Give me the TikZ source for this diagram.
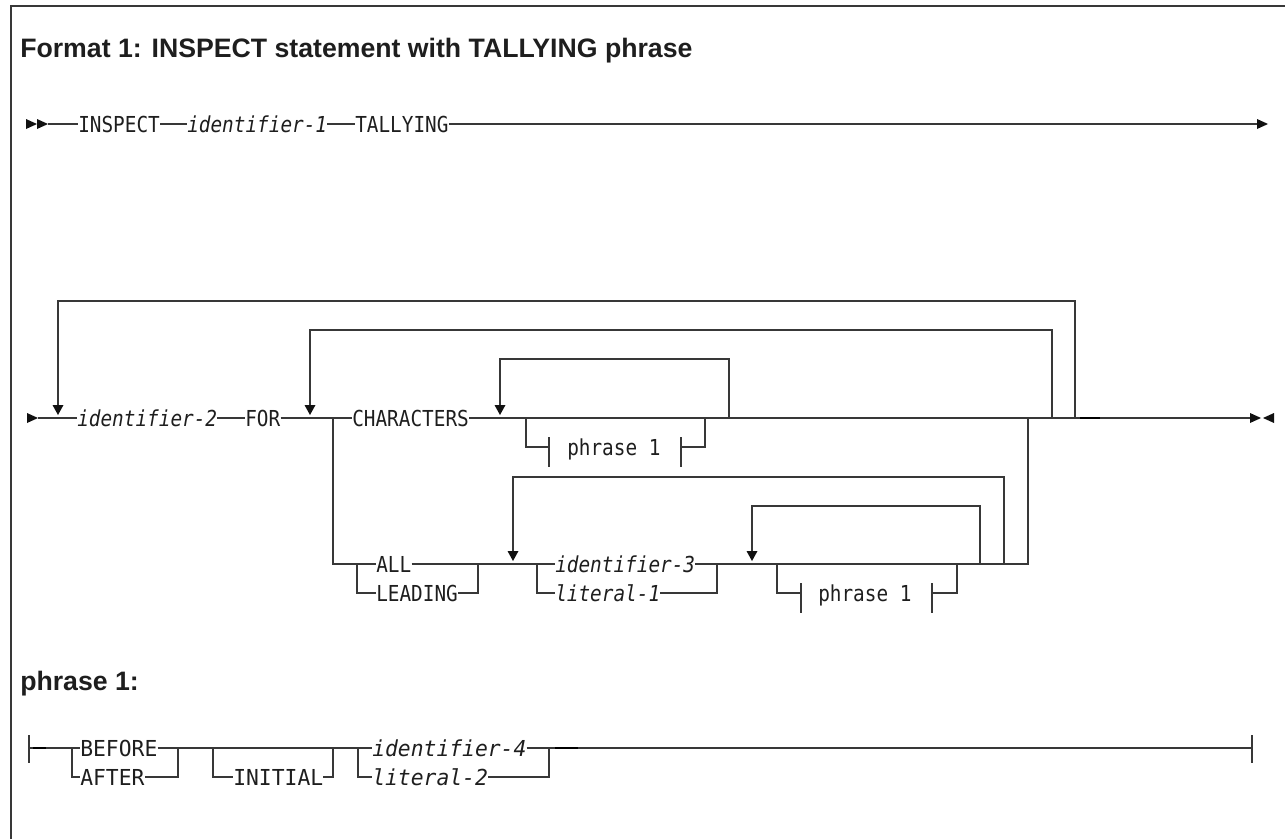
\documentclass[tikz,border=0pt]{standalone}
\usepackage{fontspec}
\setmainfont{Liberation Sans}
\newfontfamily\monof[FakeStretch=0.88]{DejaVu Sans Mono}
\newfontfamily\monow[FakeStretch=0.97]{DejaVu Sans Mono}
\definecolor{lncol}{HTML}{383838}
\definecolor{txtcol}{HTML}{1E1E1E}
\definecolor{tipcol}{HTML}{111111}
\newcommand\mkright[2]{\fill[tipcol] (#1,#2) ++(0,-5) -- ++(11,5) -- ++(-11,5) -- cycle;}
\newcommand\mkleft[2]{\fill[tipcol] (#1,#2) ++(0,-5) -- ++(-11,5) -- ++(11,5) -- cycle;}
\newcommand\mkdown[2]{\fill[tipcol] (#1,#2) ++(-5.5,-13) -- ++(11,0) -- ++(-5.5,10) -- cycle;}
\tikzset{
  ln/.style={line width=1.1pt, draw=lncol},
  frame/.style={line width=1.1pt, draw=lncol},
  kw/.style={font=\monof\fontsize{16.5pt}{18pt}\selectfont, inner xsep=0pt, inner ysep=0pt,
    text height=12pt, text depth=0pt, anchor=west, text=txtcol},
  var/.style={kw, font=\monof\itshape\fontsize{16.5pt}{18pt}\selectfont},
  kwb/.style={kw, font=\monow\fontsize{16.5pt}{18pt}\selectfont},
  varb/.style={kw, font=\monow\itshape\fontsize{16.5pt}{18pt}\selectfont},
  head/.style={font=\bfseries\fontsize{20pt}{24pt}\selectfont, anchor=base west, inner sep=0pt, text=txtcol},
  dark/.style={line width=1.6pt, draw=black},
}
\begin{document}
\begin{tikzpicture}[x=0.75pt,y=-0.75pt]
\useasboundingbox (0,0) rectangle (1285,839);
\draw[frame] (11,839) -- (11,6) -- (1285,6);

\node[head] (title) at (20,57) {Format 1: INSPECT statement with TALLYING phrase};

% ---------- line 1
\mkright{26}{124}
\mkright{37}{124}
\coordinate (L1s) at (48,124);
\node[kw] (ins) at (78,124) {INSPECT};
\node[var] (id1) at (187,124) {identifier-1};
\node[kw] (tal) at (355,124) {TALLYING};
\coordinate (L1e) at (1257,124);
\draw[ln] (L1s) -- (ins.west) (ins.east) -- (id1.west) (id1.east) -- (tal.west) (tal.east) -- (L1e);
\mkright{1257}{124}

% ---------- main line
\mkright{27}{418}
\coordinate (M0) at (38,418);
\node[var] (id2) at (77,418) {identifier-2};
\node[kw] (for) at (245,418) {FOR};
\node[kw] (chr) at (352,418) {CHARACTERS};
\coordinate (jB) at (333,418);
\coordinate (jP1) at (526,418);
\coordinate (jP1r) at (705,418);
\coordinate (jCr) at (729,418);
\coordinate (jAr) at (1028,418);
\coordinate (jFr) at (1052,418);
\coordinate (jOr) at (1075,418);
\coordinate (Mend) at (1250,418);
\draw[ln] (M0) -- (id2.west) (id2.east) -- (for.west) (for.east) -- (chr.west) (chr.east) -- (Mend);
\draw[dark] (1080,418) -- (1100,418);
\mkright{1250}{418}
\mkleft{1274}{418}

% outer loop
\coordinate (oA) at (58,405);
\coordinate (oR) at (1075,301);
\draw[ln] (oA) |- (oR) -- (jOr);
\mkdown{58}{418}
% FOR loop
\coordinate (fA) at (310,405);
\coordinate (fR) at (1052,330);
\draw[ln] (fA) |- (fR) -- (jFr);
\mkdown{310}{418}
% CHARACTERS loop
\coordinate (cA) at (500,405);
\coordinate (cR) at (729,359);
\draw[ln] (cA) |- (cR) -- (jCr);
\mkdown{500}{418}
% phrase 1 (a)
\coordinate (pa1) at (549,447);
\coordinate (pa2) at (681,447);
\node[kw] (ph1a) at (567,447) {phrase 1};
\draw[ln] (jP1) |- (pa1);
\draw[ln] (pa2) -| (jP1r);
\draw[ln] (549,437) -- (549,467);
\draw[ln] (681,437) -- (681,467);

% ---------- ALL / LEADING branch
\coordinate (jAd) at (333,564);
\coordinate (k1) at (357,564);
\node[kw] (all) at (376,564) {ALL};
\node[kw] (lead) at (376,593) {LEADING};
\coordinate (k2) at (478,564);
\coordinate (k3) at (537,564);
\node[var] (id3) at (555,564) {identifier-3};
\node[var] (lit1) at (555,593) {literal-1};
\coordinate (k4) at (717,564);
\coordinate (k5) at (777,564);
\coordinate (k6) at (957,564);
\coordinate (k7) at (980,564);
\coordinate (k8) at (1004,564);
\coordinate (k9) at (1028,564);
\draw[ln] (jB) -- (jAd) -- (all.west);
\draw[ln] (k1) |- (lead.west);
\draw[ln] (all.east) -- (k2);
\draw[ln] (lead.east) -| (k2);
\draw[ln] (k2) -- (id3.west);
\draw[ln] (k3) |- (lit1.west);
\draw[ln] (id3.east) -- (k4);
\draw[ln] (lit1.east) -| (k4);
\draw[ln] (k4) -- (k9) -- (jAr);
% ALL loop
\coordinate (aA) at (513,551);
\coordinate (aR) at (1004,477);
\draw[ln] (aA) |- (aR) -- (k8);
\mkdown{513}{564}
% inner loop
\coordinate (iA) at (752,551);
\coordinate (iR) at (980,506);
\draw[ln] (iA) |- (iR) -- (k7);
\mkdown{752}{564}
% phrase 1 (b)
\coordinate (pb1) at (801,593);
\coordinate (pb2) at (932,593);
\node[kw] (ph1b) at (818,593) {phrase 1};
\draw[ln] (k5) |- (pb1);
\draw[ln] (pb2) -| (k6);
\draw[ln] (801,583) -- (801,613);
\draw[ln] (932,583) -- (932,613);

% ---------- phrase 1 definition
\node[head] (ph) at (20,690) {phrase 1:};
\coordinate (b0) at (29,748);
\coordinate (b1) at (72,748);
\node[kwb] (bef) at (80,748) {BEFORE};
\node[kwb] (aft) at (80,777) {AFTER};
\coordinate (b2) at (178,748);
\coordinate (b3) at (213,748);
\node[kwb] (ini) at (233,777) {INITIAL};
\coordinate (b4) at (333,748);
\coordinate (b5) at (358,748);
\node[varb] (id4) at (372,748) {identifier-4};
\node[varb] (lit2) at (372,777) {literal-2};
\coordinate (b6) at (549,748);
\coordinate (bE) at (1252,748);
\draw[ln] (b0) -- (bef.west);
\draw[ln] (b1) |- (aft.west);
\draw[ln] (bef.east) -- (b2) -- (id4.west);
\draw[ln] (aft.east) -| (b2);
\draw[ln] (b3) |- (ini.west);
\draw[ln] (ini.east) -| (b4);
\draw[ln] (b5) |- (lit2.west);
\draw[ln] (id4.east) -- (b6);
\draw[ln] (lit2.east) -| (b6);
\draw[ln] (b6) -- (bE);
\draw[dark] (33,748) -- (46,748);
\draw[dark] (555,748) -- (578,748);
\draw[ln] (29,735) -- (29,763);
\draw[ln] (1252,735) -- (1252,763);
\end{tikzpicture}
\end{document}
